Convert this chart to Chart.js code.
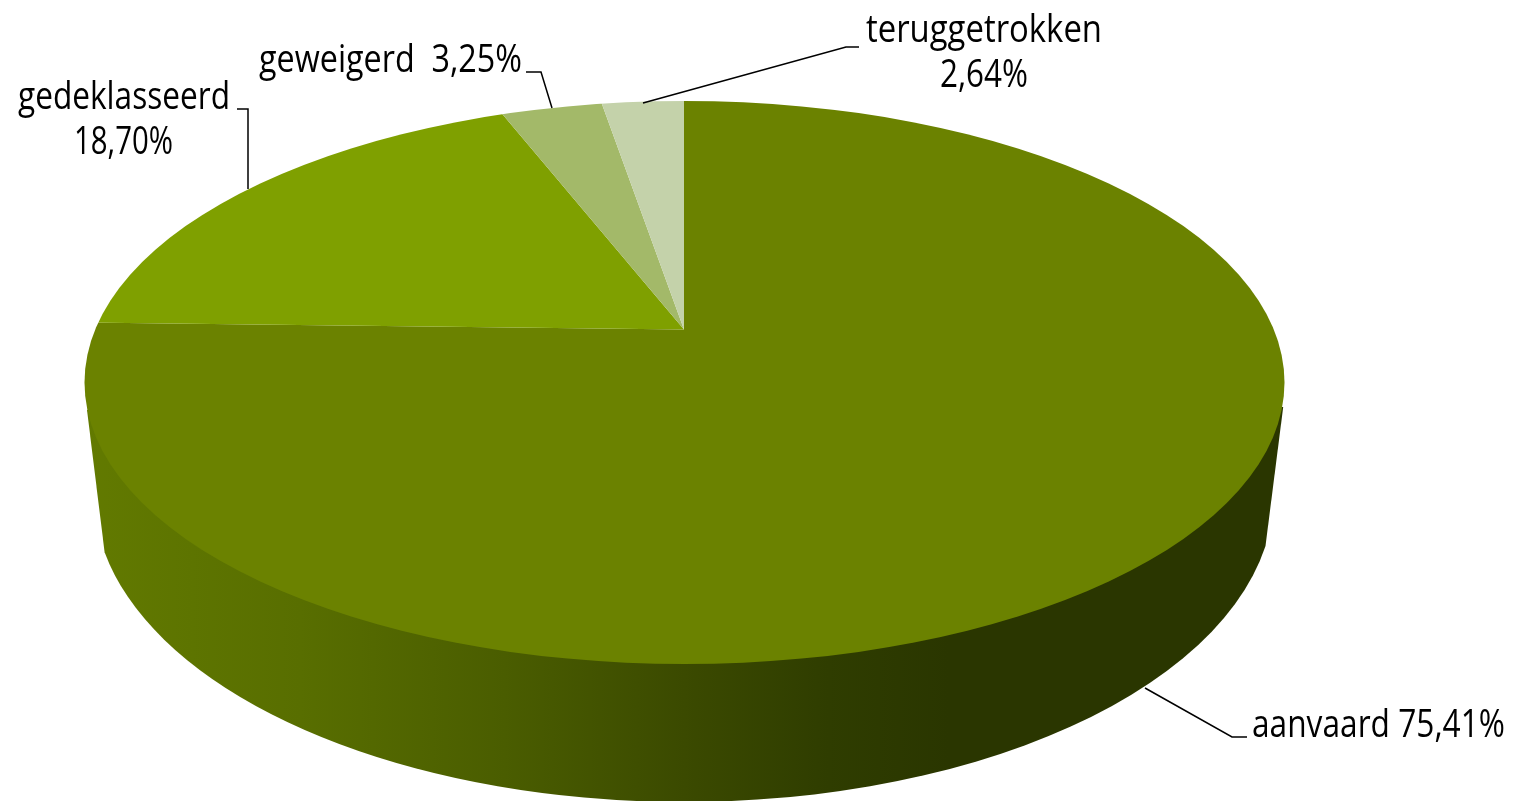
<!DOCTYPE html>
<html><head><meta charset="utf-8">
<script src="https://cdn.jsdelivr.net/npm/chart.js@4"></script>
<style>html,body{margin:0;padding:0;background:#fff;overflow:hidden}canvas{display:block}</style>
</head><body>
<canvas id="c" width="1513" height="801"></canvas>
<script>
const categories = ['aanvaard', 'gedeklasseerd', 'geweigerd', 'teruggetrokken'];
const values = [75.41, 18.70, 3.25, 2.64];
const valueLabels = ['75,41%', '18,70%', '3,25%', '2,64%'];
const sliceColors = ['#6b8200', '#7fa000', '#a3b969', '#c4d2aa'];

const TOP = {x: 684.5, y: 382.5, rx: 600, ry: 281.5};
const LOW = {x: 684, y: 494, rx: 590, ry: 308};
const APEX = {x: 684, y: 329.5};
const TILT = 0.46, GROW = 2.5;
const FONT = '38px "Open Sans"';

const wallStops = [[0,'#627a00'],[0.18,'#586e00'],[0.35,'#4a5d00'],[0.5,'#3b4a00'],[0.62,'#2f3d00'],[0.72,'#2a3600'],[1,'#2a3600']];

const textRuns = [
  {text: i => categories[i] + ' ' + valueLabels[i], i: 0, x: 1252, w: 253, y: 737},
  {text: i => categories[i], i: 1, x: 18, w: 212, y: 109},
  {text: i => valueLabels[i], i: 1, x: 74, w: 99, y: 154},
  {text: i => categories[i] + '  ' + valueLabels[i], i: 2, x: 259, w: 263, y: 72},
  {text: i => categories[i], i: 3, x: 866, w: 236, y: 42},
  {text: i => valueLabels[i], i: 3, x: 940, w: 88, y: 87}
];
const leaders = [
  [[1247,737],[1232,737],[1145,688]],
  [[237,109],[248,109],[248,189]],
  [[526,72],[541,72],[552,108]],
  [[859,47],[846,47],[643,103]]
];

const pie3d = {
  id: 'pie3d',
  beforeDatasetsDraw(chart) {
    const ctx = chart.ctx;
    ctx.save();
    const g = ctx.createLinearGradient(TOP.x - TOP.rx, 0, TOP.x + TOP.rx, 0);
    wallStops.forEach(s => g.addColorStop(s[0], s[1]));
    ctx.fillStyle = g;
    ctx.beginPath();
    ctx.moveTo(1283.2, 407);
    ctx.ellipse(LOW.x, LOW.y, LOW.rx, LOW.ry, 0, 0.17, Math.PI - 0.19);
    ctx.lineTo(87, 410);
    ctx.closePath();
    ctx.fill();
    ctx.restore();

    const arc = chart.getDatasetMeta(0).data[0];
    ctx.save();
    ctx.beginPath();
    ctx.ellipse(TOP.x, TOP.y, TOP.rx, TOP.ry, 0, 0, Math.PI * 2);
    ctx.clip();
    ctx.translate(APEX.x, APEX.y);
    ctx.scale(GROW, GROW * TILT);
    ctx.translate(-arc.x, -arc.y);
  },
  afterDatasetsDraw(chart) {
    const ctx = chart.ctx;
    ctx.restore();
    ctx.save();
    ctx.strokeStyle = '#000';
    ctx.lineWidth = 1.5;
    leaders.forEach(l => {
      ctx.beginPath();
      l.forEach((p, i) => i ? ctx.lineTo(p[0], p[1]) : ctx.moveTo(p[0], p[1]));
      ctx.stroke();
    });
    ctx.fillStyle = '#000';
    ctx.font = FONT;
    ctx.textBaseline = 'alphabetic';
    ctx.textAlign = 'left';
    textRuns.forEach(r => {
      const t = r.text(r.i);
      const sx = r.w / ctx.measureText(t).width;
      ctx.save();
      ctx.translate(r.x, r.y);
      ctx.scale(sx, 1);
      ctx.fillText(t, 0, 0);
      ctx.restore();
    });
    ctx.restore();
  }
};

new Chart(document.getElementById('c'), {
  type: 'pie',
  data: {labels: categories, datasets: [{data: values, backgroundColor: sliceColors, borderWidth: 0}]},
  options: {
    responsive: false, animation: false, events: [],
    layout: {padding: 0},
    plugins: {legend: {display: false}, tooltip: {enabled: false}}
  },
  plugins: [pie3d]
});
</script>
</body></html>
